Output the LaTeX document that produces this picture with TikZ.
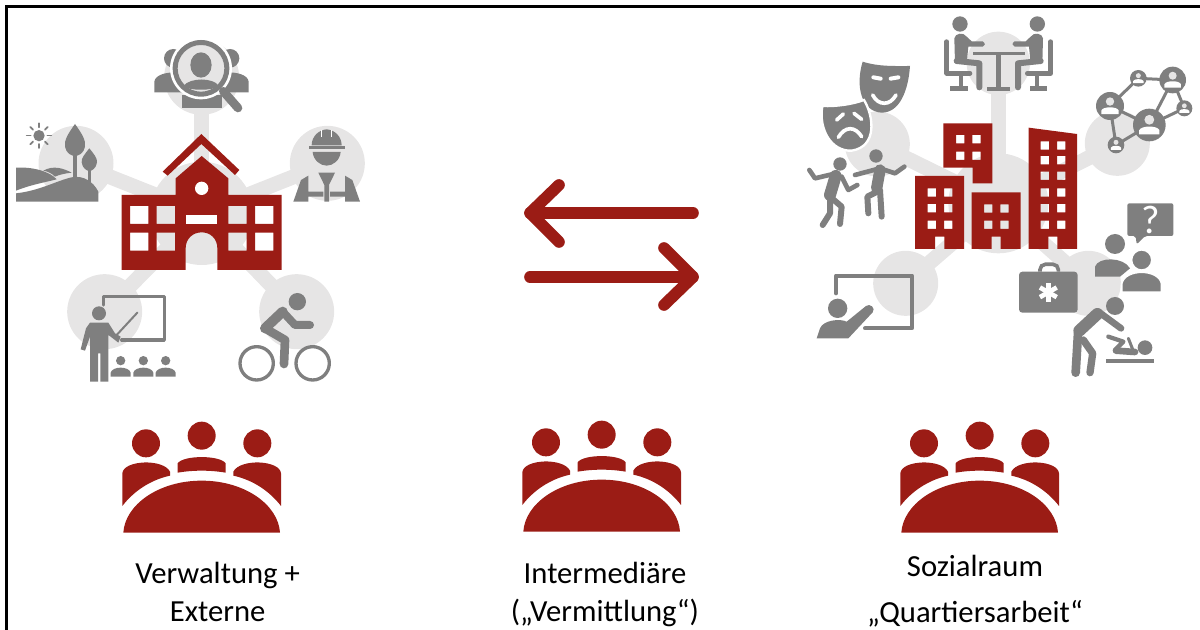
\documentclass[tikz,border=0pt]{standalone}
\usepackage{fontspec}
\setmainfont{Carlito}
\definecolor{hubgray}{HTML}{E6E5E5}
\definecolor{icongray}{HTML}{7F7F7F}
\definecolor{darkred}{HTML}{9B1C15}
\tikzset{
  lw/.style={line width=#1*0.25pt},
  gi/.style={fill=icongray},
  gs/.style={draw=icongray,lw=#1,line cap=round,line join=round},
  rd/.style={fill=darkred},
  hub/.style={circle,fill=hubgray,inner sep=0pt,minimum size=#1*0.25pt},
  bar/.style={draw=hubgray,lw=#1},
  twoway/.style={draw=darkred,lw=35,line cap=round,line join=round},
  label/.style={align=center,text=black,font=\fontsize{23}{28.5}\selectfont,inner sep=0pt},
  pics/meeting/.style={code={
    \fill[rd] (138,100) circle (42) (305,77) circle (42) (472,100) circle (42);
    \fill[rd] (233,188) -- (233,160) .. controls (250,135) and (360,135) .. (377,160) -- (377,188) .. controls (330,180) and (280,180) .. (233,188) -- cycle;
    \fill[rd] (67,288) -- (67,190) .. controls (70,150) and (190,145) .. (210,185) -- (210,197) .. controls (150,210) and (100,245) .. (67,288) -- cycle;
    \fill[rd] (543,288) -- (543,190) .. controls (540,150) and (420,145) .. (400,185) -- (400,197) .. controls (460,210) and (510,245) .. (543,288) -- cycle;
    \fill[rd] (70,368) .. controls (75,285) and (175,212) .. (305,212) .. controls (435,212) and (535,285) .. (540,368) -- cycle;
  }},
  pics/netnode/.style={code={
    \fill[gi] (0,0) circle (1);
    \fill[hubgray] (0,-.32) circle (.3);
    \fill[white] (-.62,.58) -- (-.62,.32) .. controls (-.5,.02) and (.5,.02) .. (.62,.32) -- (.62,.58) -- cycle;
  }}
}
\begin{document}
\begin{tikzpicture}[x=0.25pt,y=-0.25pt]
\useasboundingbox (0,0) rectangle (3600,1890);
\coordinate (bordertl) at (19,21);
\coordinate (bordertr) at (3600,21);
\coordinate (borderbl) at (19,1890);
\draw[black,lw=9] (borderbl) -- (bordertl) -- (bordertr);

%% ---------- left cluster ----------
\node[hub=310] (lc) at (605,640) {};
\node[hub=225] (lt) at (605,232) {};
\node[hub=225] (ll) at (228,490) {};
\node[hub=225] (lr) at (982,490) {};
\node[hub=225] (lbl) at (314,935) {};
\node[hub=225] (lbr) at (890,935) {};
\foreach \h in {lt,ll,lr,lbl,lbr} \draw[bar=45] (lc.center) -- (\h.center);

% top: people + magnifier
\fill[gi] (520,175) circle (28) (690,175) circle (28);
\fill[gi] (463,277) -- (463,245) .. controls (465,225) and (500,215) .. (530,218) -- (560,260) -- (560,277) -- cycle;
\fill[gi] (746,277) -- (746,245) .. controls (744,225) and (710,215) .. (680,218) -- (650,260) -- (650,277) -- cycle;
\fill[gi] (545,325) -- (545,285) -- (665,285) -- (665,325) -- cycle;
\fill[white] (603,205) circle (93);
\fill[hubgray] (603,205) circle (70);
\fill[gi,even odd rule] (603,205) circle (85) circle (70);
\fill[gi] (603,195) ellipse [x radius=32,y radius=38];
\fill[gi] (550,258) .. controls (570,232) and (640,232) .. (657,258) .. controls (640,273) and (565,273) .. (550,258) -- cycle;
\draw[gs=26] (670,274) -- (714,324);

% left: landscape
\fill[gi] (117,407) circle (17);
\foreach \a in {0,45,...,315}
  \draw[gs=5] ({117+25*cos(\a)},{407+25*sin(\a)}) -- ({117+37*cos(\a)},{407+37*sin(\a)});
\fill[gi] (225,372) .. controls (245,400) and (258,420) .. (255,440) .. controls (252,460) and (235,468) .. (225,468) .. controls (215,468) and (198,460) .. (195,440) .. controls (192,420) and (205,400) .. (225,372) -- cycle;
\fill[gi] (220,455) rectangle (231,530);
\fill[gi] (268,445) .. controls (280,460) and (293,475) .. (291,487) .. controls (289,505) and (275,513) .. (268,513) .. controls (261,513) and (247,505) .. (245,487) .. controls (243,475) and (256,460) .. (268,445) -- cycle;
\fill[gi] (264,500) rectangle (273,548);
\fill[gi] (48,503) .. controls (100,500) and (150,515) .. (170,538) .. controls (130,548) and (90,555) .. (48,572) -- cycle;
\fill[gi] (130,512) .. controls (160,495) and (190,505) .. (215,518) .. controls (195,520) and (175,525) .. (165,530) .. controls (155,520) and (145,515) .. (130,512) -- cycle;
\fill[gi] (48,605) -- (48,580) .. controls (120,572) and (170,542) .. (215,532) .. controls (250,525) and (280,545) .. (295,575) -- (295,605) -- cycle;

% right: worker
\fill[gi] (935,436) .. controls (935,410) and (955,390) .. (980,388) .. controls (1005,390) and (1025,410) .. (1025,436) -- cycle;
\fill[gi] (926,437) rectangle (1034,447);
\draw[white,lw=3] (965,390) -- (965,412) (995,390) -- (995,412);
\fill[gi] (938,456) -- (1022,456) .. controls (1020,480) and (1000,497) .. (980,497) .. controls (960,497) and (940,480) .. (938,456) -- cycle;
\fill[gi] (880,605) -- (903,540) -- (925,527) -- (925,575) -- (970,575) -- (970,590) -- (925,590) -- (925,605) -- cycle;
\fill[gi] (1080,605) -- (1057,540) -- (1035,527) -- (1035,575) -- (990,575) -- (990,590) -- (1035,590) -- (1035,605) -- cycle;
\fill[gi] (955,518) -- (1005,518) -- (987,555) -- (987,605) -- (973,605) -- (973,555) -- cycle;

% bottom left: teacher + board
\draw[gs=10] (310,915) -- (310,890) -- (493,890) -- (493,1020) -- (365,1020);
\fill[gi] (297,940) circle (21);
\fill[gi] (270,968) -- (325,968) -- (345,1000) -- (362,1010) -- (355,1028) -- (332,1010) -- (325,1005) -- (325,1145) -- (301,1145) -- (301,1060) -- (294,1060) -- (294,1145) -- (270,1145) -- (270,1010) -- (255,1052) -- (242,1048) -- (258,985) -- cycle;
\draw[gs=6] (350,1005) -- (412,938);
\foreach \x in {362,430,497} {
  \fill[gi] (\x,1082) circle (14);
  \fill[gi] ({\x-30},1130) -- ({\x-30},1118) .. controls ({\x-25},1098) and ({\x+25},1098) .. ({\x+30},1118) -- ({\x+30},1130) -- cycle;
}

% bottom right: cyclist
\fill[gi] (892,905) circle (26);
\draw[gs=10,fill=none] (770,1090) circle (50) (938,1090) circle (50);
\draw[gs=30] (795,985) -- (848,935);
\draw[gs=24] (848,935) -- (885,975) -- (930,975);
\draw[gs=26] (795,985) -- (855,1020) -- (852,1092);

%% ---------- school ----------
\fill[rd,even odd rule] (365,585) -- (527,585) -- (527,535) -- (605,468) -- (685,535) -- (685,585) -- (845,585) -- (845,810) -- (652,810) -- (652,745) .. controls (652,715) and (630,697) .. (605,697) .. controls (580,697) and (557,715) .. (557,745) -- (557,810) -- (365,810) -- cycle
  (390,618) rectangle (445,672) (470,618) rectangle (525,672) (685,618) rectangle (740,672) (765,618) rectangle (820,672)
  (390,698) rectangle (445,752) (470,698) rectangle (525,752) (685,698) rectangle (740,752) (765,698) rectangle (820,752);
\fill[white] (605,565) circle (20);
\fill[white] (557,645) rectangle (652,672);
\fill[rd] (488,515) -- (604,402) -- (718,510) -- (705,525) -- (604,432) -- (503,527) -- cycle;

%% ---------- arrows ----------
\coordinate (atail) at (2079,639);
\coordinate (ahead) at (1590,639);
\coordinate (aup) at (1677,555);
\coordinate (adown) at (1677,726);
\coordinate (btail) at (1590,831);
\coordinate (bhead) at (2079,831);
\coordinate (bup) at (1992,744);
\coordinate (bdown) at (1992,915);
\draw[twoway] (atail) -- (ahead);
\draw[twoway] (aup) -- (ahead) -- (adown);
\draw[twoway] (btail) -- (bhead);
\draw[twoway] (bup) -- (bhead) -- (bdown);

%% ---------- right cluster ----------
\begin{scope}[shift={(2370,0)}]
\node[hub=300] (rc) at (625,610) {};
\node[hub=190] (rt) at (625,190) {};
\node[hub=195] (rl) at (262,432) {};
\node[hub=195] (rr) at (982,430) {};
\node[hub=195] (rbl) at (347,850) {};
\node[hub=195] (rbr) at (895,850) {};
\foreach \h in {rt,rl,rr,rbl,rbr} \draw[bar=45] (rc.center) -- (\h.center);

% table meeting
\foreach \m in {0,1} {
  \begin{scope}[shift={(\m*1252,0)},xscale={1-2*\m}]
  \fill[gi] (510,72) circle (23);
  \fill[gi] (493,115) .. controls (495,100) and (520,95) .. (530,110) -- (545,124) -- (578,124) .. controls (588,130) and (585,138) .. (578,140) -- (535,140) -- (530,190) -- (495,190) -- cycle;
  \draw[gs=18] (500,183) -- (568,190) -- (568,262);
  \draw[gs=14] (470,125) -- (470,220) -- (540,220);
  \draw[gs=11] (512,222) -- (512,262);
  \fill[gi] (480,258) rectangle (533,272);
  \end{scope}
}
\fill[gi] (548,155) rectangle (706,165);
\fill[gi] (618,165) rectangle (632,262);
\fill[gi] (592,260) rectangle (660,272);

% masks
\fill[gi] (218,185) .. controls (265,200) and (310,198) .. (360,198) .. controls (355,270) and (330,338) .. (275,338) .. controls (215,335) and (195,260) .. (218,185) -- cycle;
\draw[white,lw=12,line cap=round] (250,232) -- (272,236) (302,236) -- (325,232);
\draw[white,lw=11,line cap=round] (248,285) .. controls (265,318) and (300,318) .. (318,285);
\fill[gi,draw=white,lw=7] (97,318) .. controls (140,320) and (190,312) .. (222,300) .. controls (252,350) and (262,440) .. (185,452) .. controls (125,455) and (85,390) .. (97,318) -- cycle;
\draw[white,lw=11,line cap=round] (140,360) -- (160,342) (192,340) -- (215,358);
\draw[white,lw=11,line cap=round] (145,412) .. controls (165,378) and (195,378) .. (215,410);

% dancers
\fill[gi] (150,492) circle (20) (258,468) circle (20);
\draw[gs=14] (58,510) -- (75,535) -- (130,522);
\draw[gs=14] (155,530) -- (175,570) -- (202,555);
\draw[gs=36] (137,528) -- (120,585);
\draw[gs=18] (120,590) -- (155,620) -- (150,672);
\draw[gs=18] (120,595) -- (120,640) -- (98,675);
\draw[gs=14] (270,505) -- (195,525);
\draw[gs=14] (270,505) -- (315,520) -- (343,500);
\draw[gs=34] (270,510) -- (260,565);
\draw[gs=18] (262,575) -- (232,590) -- (235,640);
\draw[gs=18] (270,570) -- (275,650);

% network
\coordinate (n1) at (960,318);
\coordinate (n2) at (1045,235);
\coordinate (n3) at (1148,240);
\coordinate (n4) at (1183,325);
\coordinate (n5) at (1078,375);
\coordinate (n6) at (978,435);
\draw[draw=icongray,lw=9] (n1) -- (n2) -- (n3) -- (n4) -- (n5) -- (n3) (n5) -- (n1) -- (n6) -- (n5);
\pic[scale=42] at (n1) {netnode};
\pic[scale=25] at (n2) {netnode};
\pic[scale=40] at (n3) {netnode};
\pic[scale=24] at (n4) {netnode};
\pic[scale=49] at (n5) {netnode};
\pic[scale=25] at (n6) {netnode};

% presenter + board
\draw[gs=12] (138,880) -- (138,827) -- (366,827) -- (366,985) -- (225,985);
\fill[gi] (143,925) circle (29);
\fill[gi] (80,1015) -- (90,985) .. controls (100,960) and (150,955) .. (170,965) -- (228,918) .. controls (240,908) and (258,925) .. (248,937) -- (175,1015) -- cycle;

% kit
\draw[icongray,lw=11,rounded corners=4pt] (750,815) -- (750,793) -- (805,793) -- (805,815);
\fill[gi,rounded corners=2.5pt] (687,815) rectangle (863,938);
\foreach \a in {30,90,150}
  \draw[white,lw=14] ({775+29*cos(\a)},{877+29*sin(\a)}) -- ({775-29*cos(\a)},{877-29*sin(\a)});

% question bubble + two persons
\fill[gi,rounded corners=1.5pt] (1012,610) -- (1150,610) -- (1150,708) -- (1065,708) -- (1040,733) -- (1037,708) -- (1012,708) -- cycle;
\node[text=white,font=\fontsize{30}{30}\selectfont,inner sep=0pt] (qmark) at (1082,660) {?};
\fill[gi] (975,732) circle (30);
\fill[gi] (915,830) -- (915,800) .. controls (925,770) and (1000,770) .. (1020,805) -- (990,830) -- cycle;
\fill[gi,draw=white,lw=6] (1055,780) circle (31);
\fill[gi,draw=white,lw=6] (995,877) -- (995,850) .. controls (1005,805) and (1105,805) .. (1115,850) -- (1115,877) -- cycle;

% changing table
\fill[gi] (975,918) circle (27);
\draw[gs=36] (922,942) -- (868,992);
\draw[gs=20] (925,935) -- (993,985);
\draw[gs=26] (864,1000) -- (857,1118);
\draw[gs=22] (880,1020) -- (908,1060) -- (900,1118);
\fill[gi] (1065,1043) circle (22);
\draw[gs=20] (978,1052) -- (1035,1056);
\draw[gs=13] (955,1010) -- (1000,1025) -- (975,1050);
\draw[gs=9] (1015,1015) -- (1028,1048);
\fill[gi] (948,1077) rectangle (1093,1090);

%% building
\fill[rd,even odd rule] (460,370) -- (607,370) -- (607,550) -- (548,550) -- (548,503) -- (460,503) -- cycle
  (498,405) rectangle (523,430) (547,405) rectangle (572,430) (498,455) rectangle (523,480) (547,455) rectangle (572,480);
\fill[rd,even odd rule] (375,528) -- (522,528) -- (522,747) -- (463,747) -- (463,710) -- (435,710) -- (435,747) -- (375,747) -- cycle
  (413,565) rectangle (438,590) (462,565) rectangle (487,590) (413,612) rectangle (438,637) (462,612) rectangle (487,637) (413,662) rectangle (438,687) (462,662) rectangle (487,687);
\fill[rd,even odd rule] (545,577) -- (692,577) -- (692,747) -- (632,747) -- (632,710) -- (605,710) -- (605,747) -- (545,747) -- cycle
  (582,613) rectangle (607,638) (631,613) rectangle (656,638) (582,662) rectangle (607,687) (631,662) rectangle (656,687);
\fill[rd,even odd rule] (716,383) -- (861,402) -- (861,747) -- (802,747) -- (802,710) -- (775,710) -- (775,747) -- (716,747) -- cycle
  (752,424) rectangle (777,449) (801,424) rectangle (826,449) (752,468) rectangle (777,493) (801,468) rectangle (826,493)
  (752,515) rectangle (777,540) (801,515) rectangle (826,540) (752,565) rectangle (777,590) (801,565) rectangle (826,590)
  (752,612) rectangle (777,637) (801,612) rectangle (826,637) (752,662) rectangle (777,687) (801,662) rectangle (826,687);
\end{scope}

%% ---------- meeting icons ----------
\pic at (300,1230) {meeting};
\pic at (1500,1227) {meeting};
\pic at (2634,1230) {meeting};

%% ---------- labels ----------
\node[label] (lab1) at (653,1775) {Verwaltung +\\Externe};
\node[label] (lab2) at (1815,1783) {Intermediäre\\(„Vermittlung“)};
\node[label,font=\fontsize{23}{34}\selectfont] (lab3) at (2925,1773) {Sozialraum\\„Quartiersarbeit“};
\end{tikzpicture}
\end{document}
